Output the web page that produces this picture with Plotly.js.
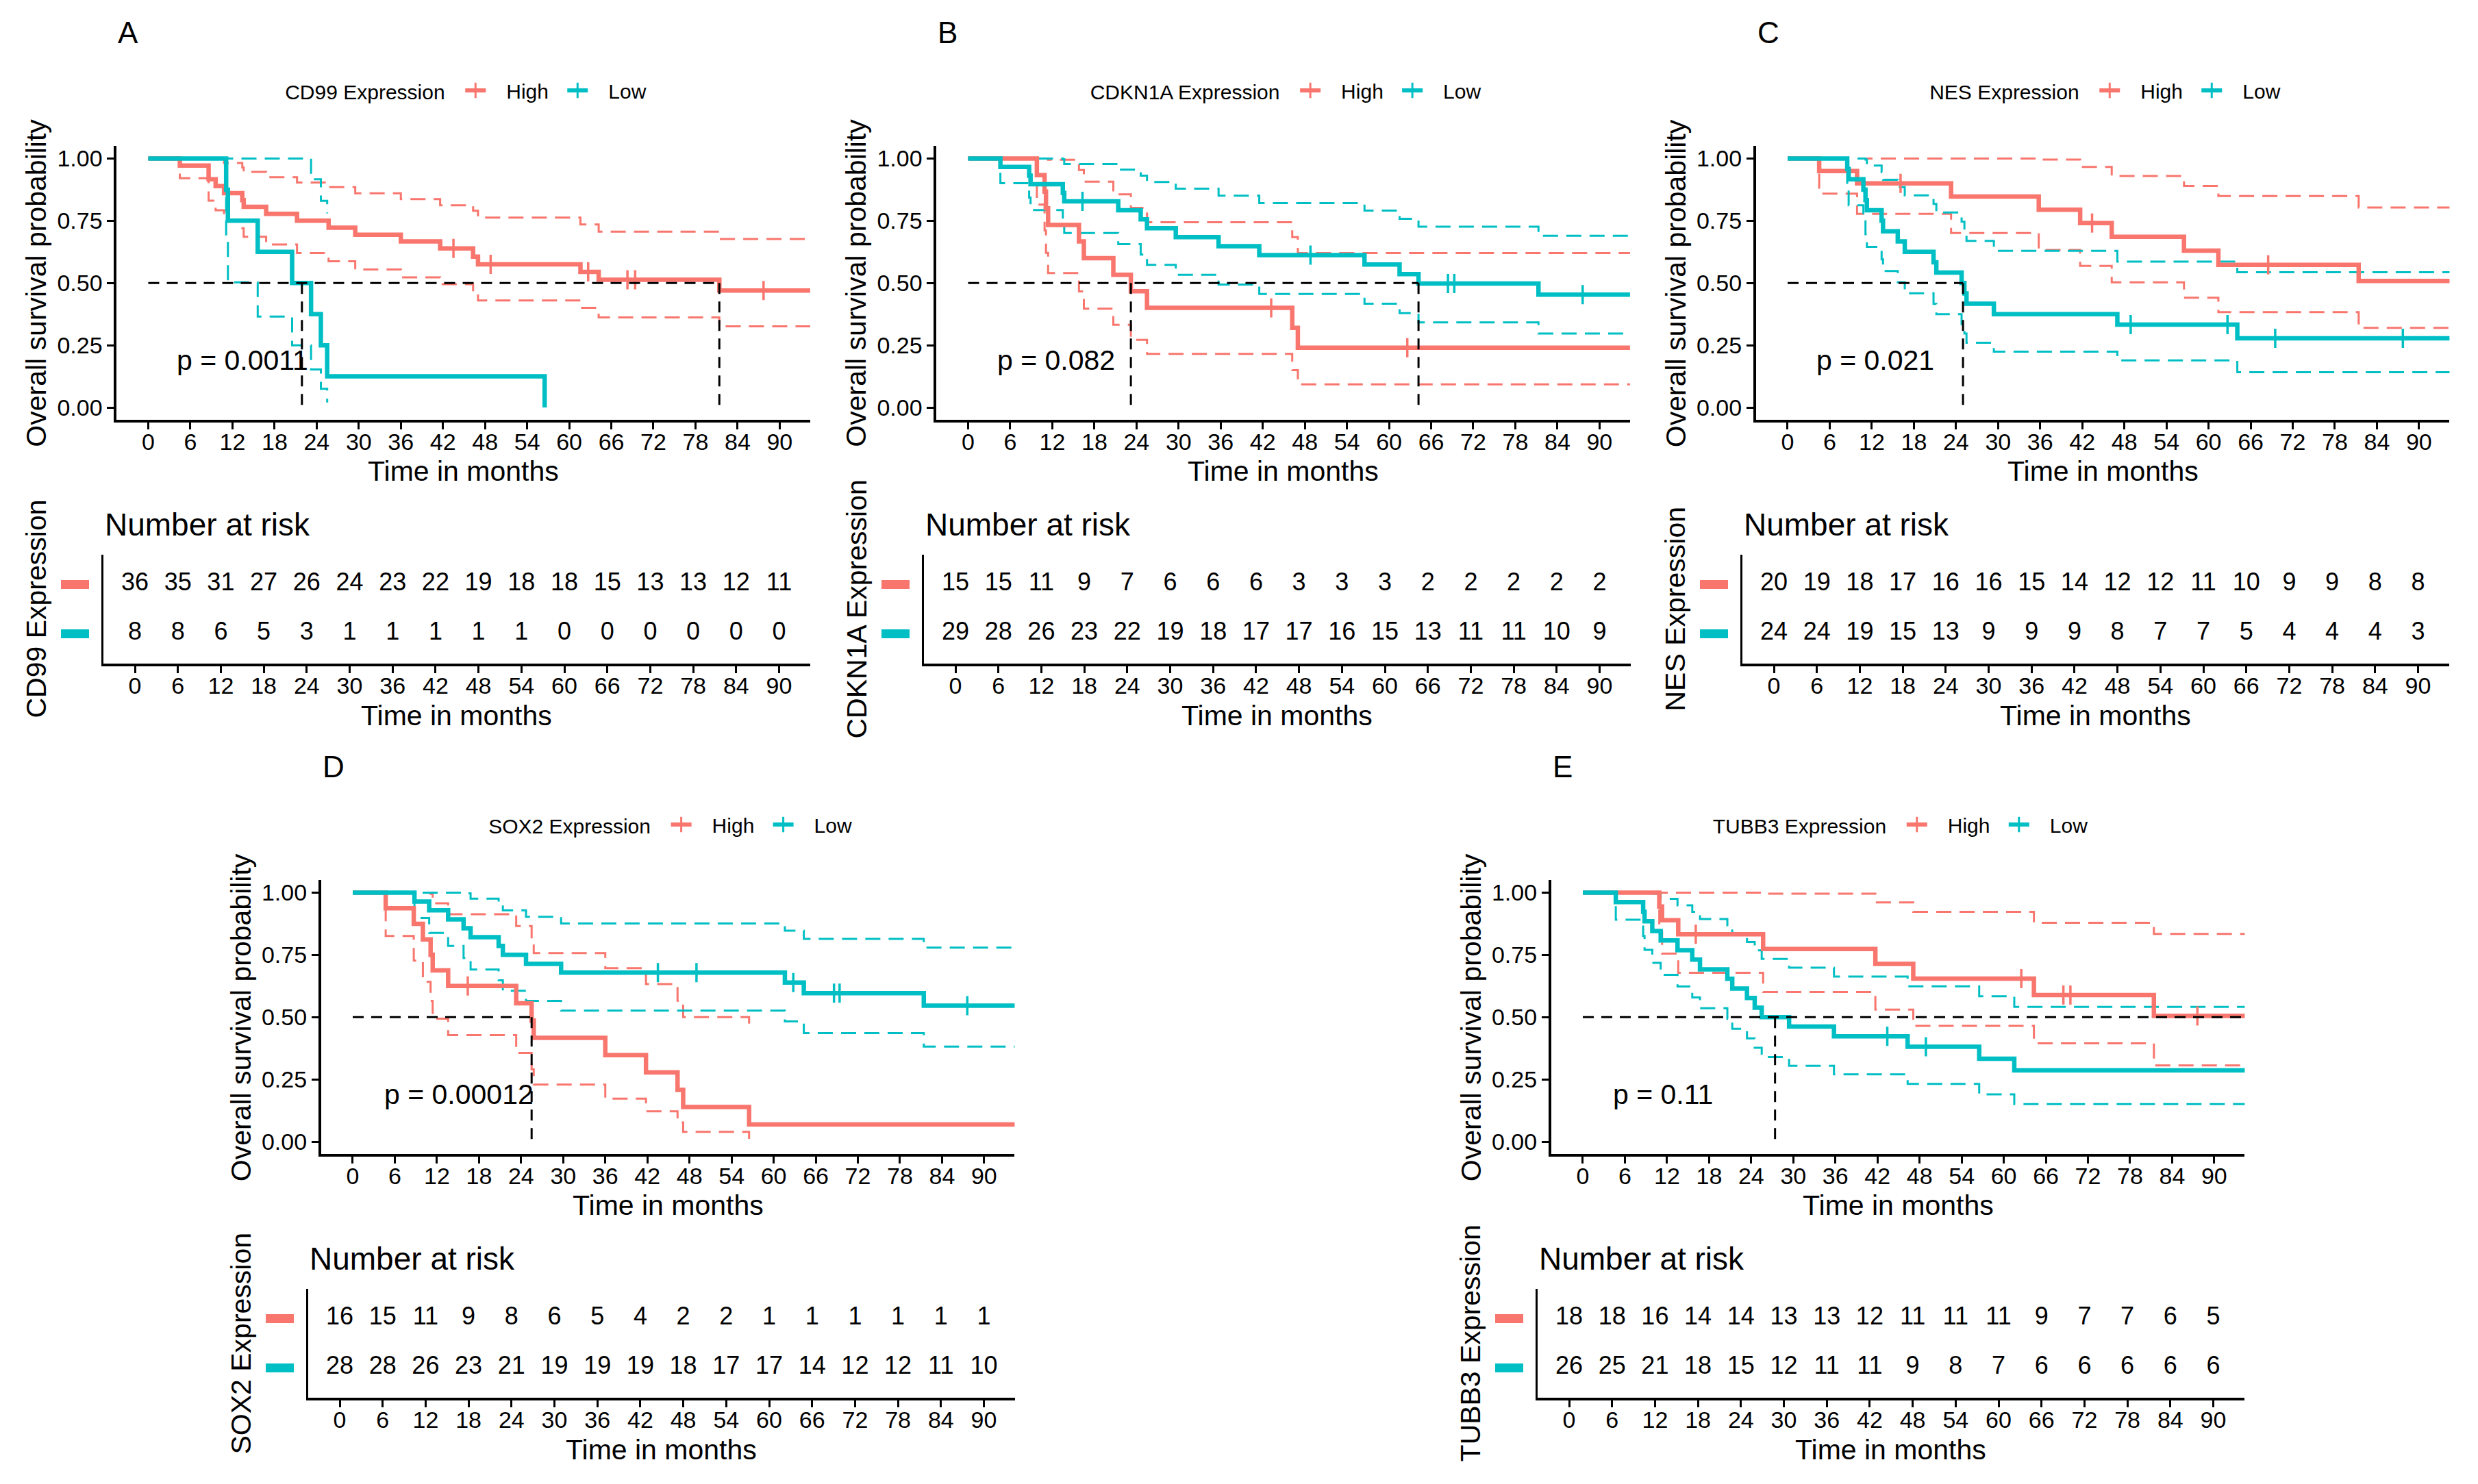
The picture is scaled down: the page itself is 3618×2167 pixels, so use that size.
<!DOCTYPE html>
<html><head><meta charset="utf-8">
<script src="https://cdn.plot.ly/plotly-3.0.1.min.js"></script>
<style>html,body{margin:0;padding:0;background:#fff}</style>
</head><body><div id="chart" style="width:3618px;height:2167px"></div>
<script>
// ---------------- DATA ----------------
const timeBreaks = [0,6,12,18,24,30,36,42,48,54,60,66,72,78,84,90];
const yBreaks = [0,0.25,0.5,0.75,1];
const yTickText = ['0.00','0.25','0.50','0.75','1.00'];
const groupNames = ['High','Low'];
const genes = ['CD99','CDKN1A','NES','SOX2','TUBB3'];
const panelLetters = ['A','B','C','D','E'];
const pValues = ['p = 0.0011','p = 0.082','p = 0.021','p = 0.00012','p = 0.11'];

// A: CD99
const cd99HighTime  = [0,4.5,8.6,9.6,10.8,13.4,13.6,16.8,21.2,25.7,29.5,36.0,41.6,46.3,47.0,61.6,64.2,81.4,96];
const cd99HighSurv  = [1,.972,.917,.889,.861,.833,.806,.778,.750,.722,.694,.667,.639,.606,.575,.545,.513,.470,.470];
const cd99HighUpper = [1,1,1,.998,.982,.964,.946,.925,.904,.885,.860,.837,.812,.790,.763,.735,.706,.677,.677];
const cd99HighLower = [1,.921,.831,.792,.755,.720,.686,.655,.620,.587,.554,.523,.495,.462,.430,.400,.362,.326,.326];
const cd99HighCensor = [43.5,48.8,62.7,68.3,69.4,87.7];
const cd99LowTime  = [0,11.1,11.35,15.6,20.5,23.2,24.6,25.5,56.5];
const cd99LowSurv  = [1,.875,.75,.625,.5,.375,.25,.125,0];
const cd99LowUpper = [1,1,1,1,1,.917,.83,.78,null];
const cd99LowLower = [1,.673,.503,.365,.25,.153,.075,.02,null];
const cd99LowCensor = [];
const cd99RiskHigh = [36,35,31,27,26,24,23,22,19,18,18,15,13,13,12,11];
const cd99RiskLow  = [8,8,6,5,3,1,1,1,1,1,0,0,0,0,0,0];
const cd99Medians = [21.9,81.4];
const cd99MedianEnd = 81.4;

// B: CDKN1A
const cdkn1aHighTime  = [0,9.8,10.9,11.1,11.4,15.8,16.5,20.7,23.2,25.5,46.2,47.0,96];
const cdkn1aHighSurv  = [1,.933,.867,.800,.733,.667,.600,.533,.467,.400,.320,.240,.240];
const cdkn1aHighUpper = [1,1,1,1,.995,.954,.907,.856,.802,.744,.684,.620,.620];
const cdkn1aHighLower = [1,.815,.711,.621,.540,.466,.397,.332,.272,.215,.150,.093,.093];
const cdkn1aHighCensor = [43.2,62.6];
const cdkn1aLowTime  = [0,4.6,8.7,8.9,13.5,13.7,21.4,24.6,25.5,29.6,35.7,41.5,56.5,61.5,64.2,81.3,96];
const cdkn1aLowSurv  = [1,.966,.931,.897,.862,.828,.792,.756,.720,.684,.648,.612,.574,.536,.498,.453,.453];
const cdkn1aLowUpper = [1,1,1,1,.997,.978,.955,.931,.906,.879,.851,.821,.791,.758,.726,.690,.690];
const cdkn1aLowLower = [1,.901,.843,.793,.746,.701,.656,.614,.573,.533,.494,.456,.417,.379,.342,.297,.297];
const cdkn1aLowCensor = [16.3,48.8,68.4,69.3,87.6];
const cdkn1aRiskHigh = [15,15,11,9,7,6,6,6,3,3,3,2,2,2,2,2];
const cdkn1aRiskLow  = [29,28,26,23,22,19,18,17,17,16,15,13,11,11,10,9];
const cdkn1aMedians = [23.2,64.2];
const cdkn1aMedianEnd = 64.2;

// C: NES
const nesHighTime  = [0,4.5,9.9,23.3,35.8,41.7,46.2,56.5,61.4,81.4,96];
const nesHighSurv  = [1,.95,.90,.847,.794,.741,.686,.630,.573,.508,.508];
const nesHighUpper = [1,1,1,1,.996,.966,.930,.890,.849,.803,.803];
const nesHighLower = [1,.859,.778,.701,.633,.569,.503,.441,.383,.320,.320];
const nesHighCensor = [16.1,43.4,68.5];
const nesLowTime  = [0,8.5,8.7,10.8,11.1,11.3,13.4,13.6,15.7,16.7,20.8,21.2,24.8,25.2,25.5,29.4,47.0,64.1,96];
const nesLowSurv  = [1,.958,.917,.875,.833,.792,.75,.708,.667,.625,.583,.542,.5,.458,.417,.375,.333,.278,.278];
const nesLowUpper = [1,1,1,1,.996,.972,.945,.915,.885,.852,.818,.783,.746,.708,.669,.629,.586,.543,.543];
const nesLowLower = [1,.881,.812,.752,.696,.645,.595,.548,.503,.459,.416,.375,.335,.297,.260,.224,.189,.142,.142];
const nesLowCensor = [48.9,62.7,69.5,87.7];
const nesRiskHigh = [20,19,18,17,16,16,15,14,12,12,11,10,9,9,8,8];
const nesRiskLow  = [24,24,19,15,13,9,9,9,8,7,7,5,4,4,4,3];
const nesMedians = [25.0];
const nesMedianEnd = 25.0;

// D: SOX2
const sox2HighTime  = [0,4.7,8.7,10.0,11.1,11.4,13.6,23.3,25.5,25.8,36.0,41.8,46.3,47.1,56.5,96];
const sox2HighSurv  = [1,.9375,.875,.8125,.75,.6875,.625,.556,.486,.417,.347,.278,.208,.139,.069,.069];
const sox2HighUpper = [1,1,1,1,.995,.957,.913,.866,.814,.757,.697,.633,.566,.500,.458,null];
const sox2HighLower = [1,.826,.727,.642,.565,.494,.428,.356,.290,.229,.173,.122,.077,.039,.011,null];
const sox2HighCensor = [16.4];
const sox2LowTime  = [0,8.8,10.9,13.6,15.8,16.8,20.8,21.4,24.7,29.7,61.6,64.3,81.4,96];
const sox2LowSurv  = [1,.964,.929,.893,.857,.821,.786,.75,.714,.679,.639,.596,.546,.546];
const sox2LowUpper = [1,1,1,1,.997,.976,.954,.929,.903,.876,.847,.814,.779,.779];
const sox2LowLower = [1,.898,.838,.786,.737,.691,.648,.606,.565,.526,.483,.436,.382,.382];
const sox2LowCensor = [43.5,49.0,62.8,68.6,69.4,87.6];
const sox2RiskHigh = [16,15,11,9,8,6,5,4,2,2,1,1,1,1,1,1];
const sox2RiskLow  = [28,28,26,23,21,19,19,19,18,17,17,14,12,12,11,10];
const sox2Medians = [25.5];
const sox2MedianEnd = 25.5;

// E: TUBB3
const tubb3HighTime  = [0,10.9,11.3,13.6,25.7,41.7,47.1,64.3,81.4,96];
const tubb3HighSurv  = [1,.944,.889,.833,.774,.714,.655,.589,.505,.505];
const tubb3HighUpper = [1,1,1,1,.996,.961,.923,.879,.834,.834];
const tubb3HighLower = [1,.844,.755,.678,.601,.530,.465,.395,.306,.306];
const tubb3HighCensor = [16.1,62.5,68.5,69.5,87.6];
const tubb3LowTime  = [0,4.7,8.6,8.8,9.9,11.1,13.5,15.6,16.7,20.6,21.3,23.4,24.5,25.5,29.4,35.8,46.3,56.5,61.5,96];
const tubb3LowSurv  = [1,.962,.923,.885,.846,.808,.769,.731,.692,.654,.615,.577,.538,.500,.462,.423,.381,.333,.286,.286];
const tubb3LowUpper = [1,1,1,1,.996,.975,.949,.923,.894,.865,.833,.802,.768,.734,.699,.663,.624,.584,.541,.541];
const tubb3LowLower = [1,.891,.826,.770,.718,.670,.623,.579,.536,.494,.453,.415,.377,.340,.305,.270,.232,.190,.151,.151];
const tubb3LowCensor = [43.4,48.9];
const tubb3RiskHigh = [18,18,16,14,14,13,13,12,11,11,11,9,7,7,6,5];
const tubb3RiskLow  = [26,25,21,18,15,12,11,11,9,8,7,6,6,6,6,6];
const tubb3Medians = [27.4];
const tubb3MedianEnd = 96;

// ---------------- BUILD ----------------
const W = 3618, H = 2167;
const RED = '#F8766D', CYAN = '#00BFC4';
const FONT = '"Liberation Sans", Arial, sans-serif';
const colors = [RED, CYAN];
const NB = '\u00a0\u00a0\u00a0';

const panels = [
  {high:{t:cd99HighTime,s:cd99HighSurv,u:cd99HighUpper,l:cd99HighLower,c:cd99HighCensor,r:cd99RiskHigh},
   low:{t:cd99LowTime,s:cd99LowSurv,u:cd99LowUpper,l:cd99LowLower,c:cd99LowCensor,r:cd99RiskLow},
   med:cd99Medians, medEnd:cd99MedianEnd},
  {high:{t:cdkn1aHighTime,s:cdkn1aHighSurv,u:cdkn1aHighUpper,l:cdkn1aHighLower,c:cdkn1aHighCensor,r:cdkn1aRiskHigh},
   low:{t:cdkn1aLowTime,s:cdkn1aLowSurv,u:cdkn1aLowUpper,l:cdkn1aLowLower,c:cdkn1aLowCensor,r:cdkn1aRiskLow},
   med:cdkn1aMedians, medEnd:cdkn1aMedianEnd},
  {high:{t:nesHighTime,s:nesHighSurv,u:nesHighUpper,l:nesHighLower,c:nesHighCensor,r:nesRiskHigh},
   low:{t:nesLowTime,s:nesLowSurv,u:nesLowUpper,l:nesLowLower,c:nesLowCensor,r:nesRiskLow},
   med:nesMedians, medEnd:nesMedianEnd},
  {high:{t:sox2HighTime,s:sox2HighSurv,u:sox2HighUpper,l:sox2HighLower,c:sox2HighCensor,r:sox2RiskHigh},
   low:{t:sox2LowTime,s:sox2LowSurv,u:sox2LowUpper,l:sox2LowLower,c:sox2LowCensor,r:sox2RiskLow},
   med:sox2Medians, medEnd:sox2MedianEnd},
  {high:{t:tubb3HighTime,s:tubb3HighSurv,u:tubb3HighUpper,l:tubb3HighLower,c:tubb3HighCensor,r:tubb3RiskHigh},
   low:{t:tubb3LowTime,s:tubb3LowSurv,u:tubb3LowUpper,l:tubb3LowLower,c:tubb3LowCensor,r:tubb3RiskLow},
   med:tubb3Medians, medEnd:tubb3MedianEnd}
];

// pixel layout (styling / positions)
const kmX0 = [216.5,1413.5,2610,515,2311];
const tabX0 = [197,1395,2590,496,2291];
const rowOff = [0,0,0,1072,1072];
const kmPx = 10.243, tabPx = 10.45;
const kmRange = [-4.5,94.35], tabRange = [-4.4,94.35];
const pX = [3.9,4.0,3.9,4.3,4.1];

function stepAt(t,s,x){ let v=s[0]; for(let i=0;i<t.length;i++){ if(t[i]<=x && s[i]!=null) v=s[i]; } return v; }
const fx = px => px/W;
const fy = py => 1 - py/H;

const traces = [];
const layout = {
  width: W, height: H, margin:{l:0,r:0,t:0,b:0},
  paper_bgcolor:'#fff', plot_bgcolor:'rgba(0,0,0,0)',
  font:{family:FONT, color:'#000'},
  showlegend:true, annotations:[], shapes:[]
};

const axisCommon = {
  showgrid:false, zeroline:false, showline:true, linecolor:'#000', linewidth:4,
  ticks:'outside', ticklen:10, tickwidth:3, tickcolor:'#000',
  tickfont:{family:FONT,size:34,color:'#000'}, fixedrange:true
};

panels.forEach((p,k)=>{
  const ki = 2*k+1, ti = 2*k+2;
  const kx = ki===1?'x':'x'+ki, ky = ki===1?'y':'y'+ki;
  const tx = 'x'+ti, ty = 'y'+ti;
  const kxName = ki===1?'xaxis':'xaxis'+ki, kyName = ki===1?'yaxis':'yaxis'+ki;
  const legName = k===0?'legend':'legend'+(k+1);
  const ro = rowOff[k];

  const kmL = kmX0[k] + kmRange[0]*kmPx, kmR = kmX0[k] + kmRange[1]*kmPx;
  const kmT = 213.3 + ro, kmB = 613.2 + ro;
  const tbL = tabX0[k] + tabRange[0]*tabPx, tbR = tabX0[k] + tabRange[1]*tabPx;
  const tbT = 810.3 + ro, tbB = 968.7 + ro;

  layout[kxName] = Object.assign({}, axisCommon, {domain:[fx(kmL),fx(kmR)], range:kmRange, anchor:ky, tickvals:timeBreaks, ticklabelstandoff:-11});
  layout[kyName] = Object.assign({}, axisCommon, {domain:[fy(kmB),fy(kmT)], range:[-0.05,1.05], anchor:kx, tickvals:yBreaks, ticktext:yTickText});
  layout['xaxis'+ti] = Object.assign({}, axisCommon, {domain:[fx(tbL),fx(tbR)], range:tabRange, anchor:ty, tickvals:timeBreaks, ticklabelstandoff:-11});
  layout['yaxis'+ti] = Object.assign({}, axisCommon, {domain:[fy(tbB),fy(tbT)], range:[0.4,2.6], anchor:tx, tickvals:[], showticklabels:false, ticks:'', linewidth:3});

  // confidence bands (dashed)
  [p.high,p.low].forEach((g,gi)=>{
    const col = colors[gi];
    const dashLine = {shape:'hv', width:3, color:col, dash:'22px,12px'};
    traces.push({type:'scatter', mode:'lines', x:g.t, y:g.u, xaxis:kx, yaxis:ky, line:dashLine, showlegend:false, hoverinfo:'skip', connectgaps:false});
    traces.push({type:'scatter', mode:'lines', x:g.t, y:g.l, xaxis:kx, yaxis:ky, line:dashLine, showlegend:false, hoverinfo:'skip', connectgaps:false});
  });
  // survival curves + censor marks
  [p.high,p.low].forEach((g,gi)=>{
    const col = colors[gi];
    traces.push({type:'scatter', mode:'lines', x:g.t, y:g.s, xaxis:kx, yaxis:ky, line:{shape:'hv', width:6.5, color:col}, showlegend:false, hoverinfo:'skip'});
    if(g.c.length){
      traces.push({type:'scatter', mode:'markers', x:g.c, y:g.c.map(c=>stepAt(g.t,g.s,c)), xaxis:kx, yaxis:ky,
        marker:{symbol:'line-ns-open', size:20, color:col, line:{width:3.5, color:col}}, showlegend:false, hoverinfo:'skip'});
    }
  });
  // median lines
  const mx = [0, p.medEnd], my = [0.5,0.5];
  p.med.forEach(m=>{ mx.push(null, m, m); my.push(null, 0.5, 0); });
  traces.push({type:'scatter', mode:'lines', x:mx, y:my, xaxis:kx, yaxis:ky, line:{color:'#000', width:3, dash:'16px,11px'}, showlegend:false, hoverinfo:'skip', connectgaps:false});

  // legend entries
  groupNames.forEach((gn,gi)=>{
    traces.push({type:'scatter', mode:'lines+markers', x:[null], y:[null], xaxis:kx, yaxis:ky, name:NB+gn, legend:legName,
      line:{color:colors[gi], width:6}, marker:{symbol:'line-ns-open', size:16, color:colors[gi], line:{width:3, color:colors[gi]}}, hoverinfo:'skip'});
  });
  layout[legName] = {
    x: fx((kmL+kmR)/2 + 17), y: fy(132+ro), xanchor:'center', yanchor:'middle', orientation:'h',
    bgcolor:'rgba(0,0,0,0)', font:{family:FONT,size:30,color:'#000'},
    title:{text:genes[k]+' Expression\u00a0\u00a0', side:'left', font:{family:FONT,size:30,color:'#000'}},
    itemwidth:30, entrywidth:104, tracegroupgap:0
  };

  // risk table numbers
  [p.high,p.low].forEach((g,gi)=>{
    traces.push({type:'scatter', mode:'text', x:timeBreaks.slice(0,g.r.length), y:g.r.map(()=>2-gi), text:g.r.map(String),
      textfont:{family:FONT,size:36,color:'#000'}, textposition:'middle center', xaxis:tx, yaxis:ty, showlegend:false, hoverinfo:'skip', cliponaxis:false});
    layout.shapes.push({type:'rect', xref:'paper', yref:ty, x0:fx(tbL-62), x1:fx(tbL-21), y0:2-gi-0.09, y1:2-gi+0.09, fillcolor:colors[gi], line:{width:0}});
  });

  const A = layout.annotations;
  A.push({text:panelLetters[k], xref:'paper', yref:'paper', x:fx(kmL), y:fy(47+ro), xanchor:'left', yanchor:'middle', showarrow:false, font:{family:FONT,size:44,color:'#000'}});
  A.push({text:'Overall survival probability', xref:'paper', yref:'paper', x:fx(kmL-117), y:fy((kmT+kmB)/2), xanchor:'center', yanchor:'middle', textangle:-90, showarrow:false, font:{family:FONT,size:41,color:'#000'}});
  A.push({text:'Time in months', xref:'paper', yref:'paper', x:fx((kmL+kmR)/2), y:fy(688+ro), xanchor:'center', yanchor:'middle', showarrow:false, font:{family:FONT,size:41,color:'#000'}});
  A.push({text:pValues[k], xref:kx, yref:ky, x:pX[k], y:0.19, xanchor:'left', yanchor:'middle', showarrow:false, font:{family:FONT,size:41,color:'#000'}});
  A.push({text:'Number at risk', xref:'paper', yref:'paper', x:fx(tbL), y:fy(766+ro), xanchor:'left', yanchor:'middle', showarrow:false, font:{family:FONT,size:46,color:'#000'}});
  A.push({text:genes[k]+' Expression', xref:'paper', yref:'paper', x:fx(tbL-99), y:fy((tbT+tbB)/2), xanchor:'center', yanchor:'middle', textangle:-90, showarrow:false, font:{family:FONT,size:41,color:'#000'}});
  A.push({text:'Time in months', xref:'paper', yref:'paper', x:fx((tbL+tbR)/2), y:fy(1045+ro), xanchor:'center', yanchor:'middle', showarrow:false, font:{family:FONT,size:41,color:'#000'}});
});

Plotly.newPlot('chart', traces, layout, {staticPlot:true, displayModeBar:false});
</script>
</body></html>
